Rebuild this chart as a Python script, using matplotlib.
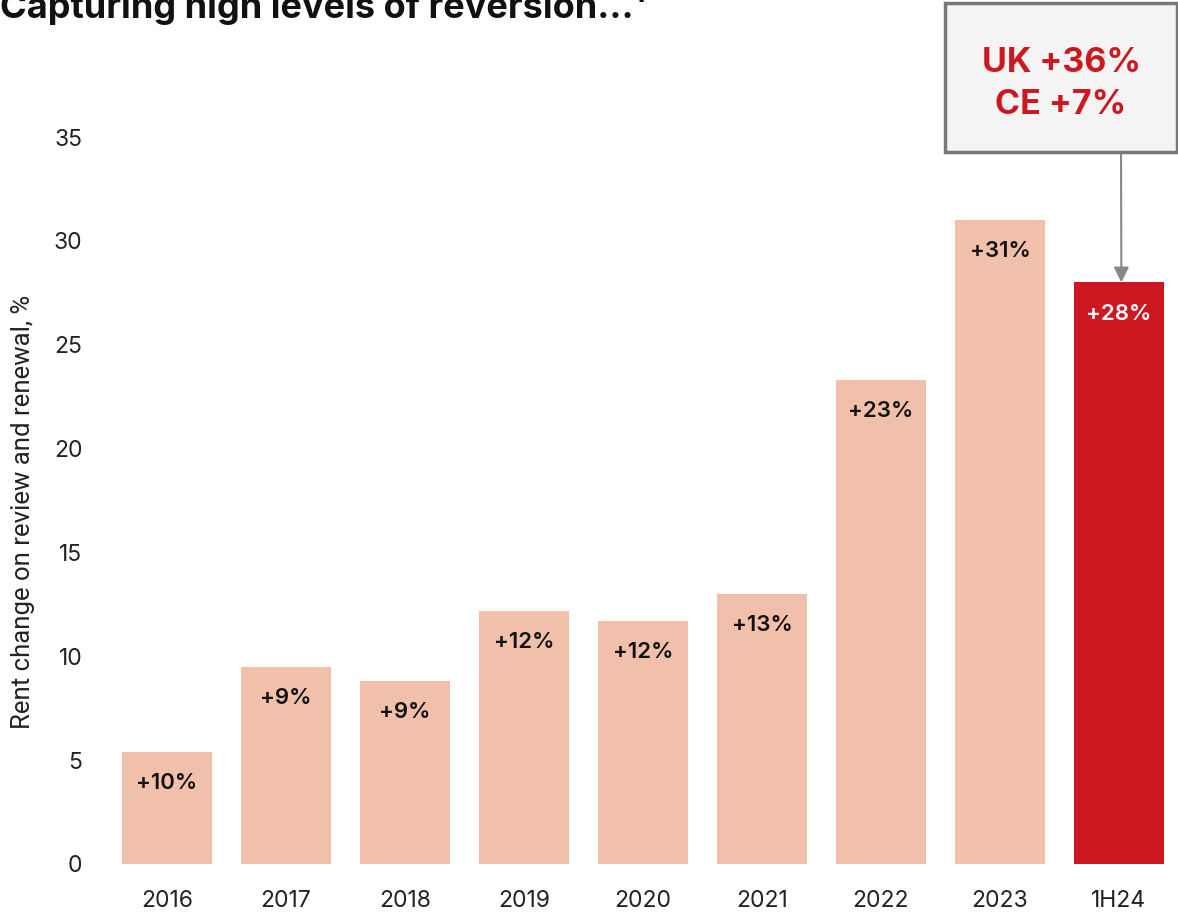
import matplotlib
matplotlib.use("Agg")
import matplotlib.pyplot as plt

categories = ["2016", "2017", "2018", "2019", "2020", "2021", "2022", "2023", "1H24"]
values = [5.4, 9.5, 8.8, 12.2, 11.7, 13.0, 23.3, 31.0, 28.0]
bar_labels = ["+10%", "+9%", "+9%", "+12%", "+12%", "+13%", "+23%", "+31%", "+28%"]
yticks = [0, 5, 10, 15, 20, 25, 30, 35]
callout_text = "UK +36%\nCE +7%"
title = "Capturing high levels of reversion...¹"
ylabel = "Rent change on review and renewal, %"

W, H = 1178, 915
fig = plt.figure(figsize=(W / 100, H / 100), dpi=100)
plt.rcParams['font.family'] = ['Inter', 'DejaVu Sans']

left_px, right_px = 107.5, 1178.5
bot_px, top_px = 864, 137
ax = fig.add_axes([left_px / W, (H - bot_px) / H, (right_px - left_px) / W, (bot_px - top_px) / H])

light = "#f0c0ab"
red = "#cc1820"
colors = [light] * (len(categories) - 1) + [red]
x = list(range(len(categories)))
ax.bar(x, values, width=0.756, color=colors, zorder=2)
ax.set_xlim(-0.5, 8.5)
ax.set_ylim(0, 35)
ax.set_yticks(yticks)
ax.set_xticks(x)
ax.set_xticklabels(categories)
for s in ax.spines.values():
    s.set_visible(False)
ax.tick_params(axis='both', length=0, labelsize=16.5, colors="#222222")
ax.tick_params(axis='y', pad=18)
ax.tick_params(axis='x', pad=19)

for i, (v, lab) in enumerate(zip(values, bar_labels)):
    c = "white" if i == len(values) - 1 else "#111111"
    ax.annotate(lab, (i, v), xytext=(0, -22.5), textcoords="offset points",
                ha="center", va="center", fontsize=16, fontweight="semibold", color=c)

fig.text(23 / W, (H - 512) / H, ylabel, rotation=90, ha="center", va="center",
         fontsize=18.5, color="#222222", family=['Roboto', 'DejaVu Sans'])

fig.text(0, (H - 18) / H, title, ha="left", va="baseline", fontsize=26, fontweight="bold", color="#111111")

# Callout box
bx0, by0, bx1, by1 = 945, 3, 1177, 152
box = plt.Rectangle((bx0 / W, 1 - by1 / H), (bx1 - bx0) / W, (by1 - by0) / H,
                    transform=fig.transFigure, facecolor="#f4f4f4", edgecolor="#777777",
                    linewidth=2.5, zorder=5)
fig.add_artist(box)
fig.text((bx0 + bx1) / 2 / W, 1 - 84 / H, callout_text, ha="center", va="center",
         fontsize=24.5, fontweight="bold", color=red, linespacing=1.4, zorder=6)

# Arrow from box to last bar
last = len(values) - 1
ax.annotate("", xy=(last + 0.02, values[last]), xycoords="data",
            xytext=(1121 / W, 1 - by1 / H), textcoords="figure fraction",
            arrowprops=dict(arrowstyle="-|>,head_length=0.9,head_width=0.45", color="#888888",
                            lw=1.5, shrinkA=0, shrinkB=0),
            annotation_clip=False, zorder=4)

fig.savefig("out.png", dpi=100)
